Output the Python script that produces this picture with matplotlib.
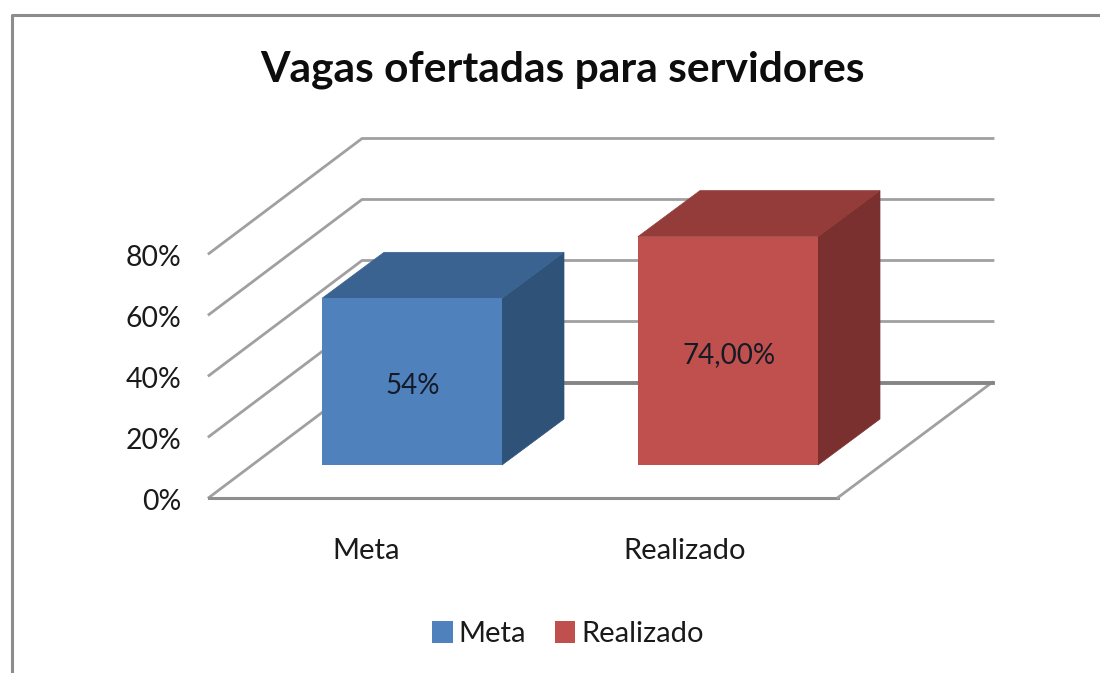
import matplotlib
matplotlib.use("Agg")
import matplotlib.pyplot as plt
from matplotlib.patches import Polygon, Rectangle

title = "Vagas ofertadas para servidores"
categories = ["Meta", "Realizado"]
values = [54, 74]
value_labels = ["54%", "74,00%"]
yticks = [0, 20, 40, 60, 80]
ytick_labels = ["0%", "20%", "40%", "60%", "80%"]
front_colors = ["#4F81BD", "#C0504D"]
top_colors = ["#3B6391", "#943C39"]
side_colors = ["#2F5279", "#7A302E"]

W, H = 1100, 673
plt.rcParams["font.family"] = ["Lato", "DejaVu Sans"]
fig = plt.figure(figsize=(W / 100, H / 100), dpi=100, facecolor="white")
ax = fig.add_axes([0, 0, 1, 1])
# x axis in pixels; y axis in percent, with zero on the front floor edge
PX = 3.05
Y0 = 497.5
ax.set_xlim(0, W)
ax.set_ylim((Y0 - H) / PX, Y0 / PX)
ax.axis("off")

FX0, FX1 = 209, 838      # front floor edge
DX, DY = 153, 115 / PX   # depth of the floor
BDX, BDY = 62, 46 / PX   # depth of a bar
BFY = 32.5 / PX          # bar offset from front floor edge
BAR_SCALE = 1.012        # bars rise slightly faster than the front ticks
GRID = "#A0A0A0"
FLOOR = "#8F8F8F"

# chart frame
ax.plot([12, 12, W], [(Y0 - H) / PX, (Y0 - 15) / PX, (Y0 - 15) / PX],
        color="#8C8C8C", lw=2.2, zorder=1)

# walls
for t in yticks[1:]:
    ax.plot([FX0, FX0 + DX, FX0 + DX + 631], [t, t + DY, t + DY], color=GRID, lw=2.0, zorder=2)

# floor
ax.add_patch(Polygon([(FX0, 0), (FX1, 0), (FX1 + DX + 1, DY), (FX0 + DX, DY)],
                     closed=True, fc="white", ec="none", zorder=3))
ax.plot([FX0 + DX, FX0], [DY, 0], color=GRID, lw=2.0, zorder=3)
ax.plot([FX0, FX1], [0, 0], color=FLOOR, lw=2.2, zorder=3)
ax.plot([FX1, FX1 + DX + 1], [0, DY], color=GRID, lw=2.0, zorder=3)
ax.plot([FX0 + DX, FX0 + DX + 631], [DY, DY], color="#858585", lw=2.8, zorder=3)

# bars
for i, (v, lab) in enumerate(zip(values, value_labels)):
    x0 = 322 + 316 * i
    x1 = x0 + 180
    h = v * BAR_SCALE
    ax.add_patch(Polygon([(x1, BFY), (x1 + BDX, BFY + BDY), (x1 + BDX, BFY + h + BDY), (x1, BFY + h)],
                         fc=side_colors[i], ec=side_colors[i], lw=0.5, zorder=4))
    ax.add_patch(Polygon([(x0, BFY + h), (x1, BFY + h), (x1 + BDX, BFY + h + BDY), (x0 + BDX, BFY + h + BDY)],
                         fc=top_colors[i], ec=top_colors[i], lw=0.5, zorder=4))
    ax.add_patch(Rectangle((x0, BFY), 180, h, fc=front_colors[i], ec="none", zorder=5))
    ax.text((x0 + x1) / 2 + 1, BFY + h / 2 - 1.5, lab, ha="center", va="center", fontsize=20,
            color="#141A26", zorder=6)
    ax.text(366 + 318.5 * i, -17.4, categories[i], ha="center", va="center", fontsize=21, color="#1A1A1A")

# y tick labels
for t, lab in zip(yticks, ytick_labels):
    ax.text(181, t - 1.5, lab, ha="right", va="center", fontsize=20.4, color="#1A1A1A")

# title
ax.text(562, (Y0 - 70) / PX, title, ha="center", va="center", fontsize=30.6, fontweight="bold",
        color="#0D0D0D")

# legend
handles = [Rectangle((0, 0), 1, 1, fc=c, ec="none") for c in front_colors]
ax.legend(handles, categories, loc="center", bbox_to_anchor=(568 / W, 1 - 634 / H),
          bbox_transform=fig.transFigure, ncol=2, frameon=False, fontsize=21,
          handlelength=0.69, handleheight=0.8, handletextpad=0.2, columnspacing=1.0,
          labelcolor="#1A1A1A")

fig.savefig("out.png", dpi=100, facecolor="white")
